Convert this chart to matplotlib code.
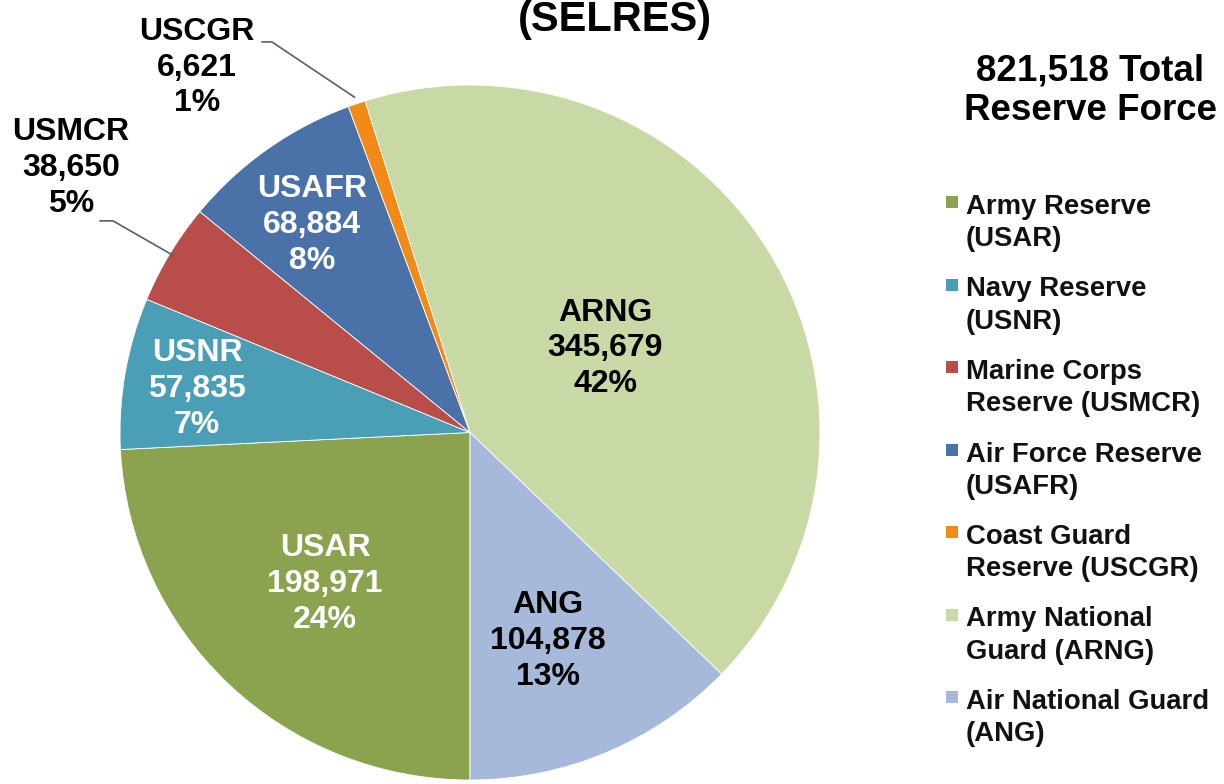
import matplotlib
matplotlib.use("Agg")
import matplotlib.pyplot as plt
from matplotlib.patches import Rectangle
import numpy as np

# ---- data ----
categories = ["USAR", "USNR", "USMCR", "USAFR", "USCGR", "ARNG", "ANG"]
values = [198971, 57835, 38650, 68884, 6621, 345679, 104878]
legend_names = ["Army Reserve\n(USAR)", "Navy Reserve\n(USNR)",
                "Marine Corps\nReserve (USMCR)", "Air Force Reserve\n(USAFR)",
                "Coast Guard\nReserve (USCGR)", "Army National\nGuard (ARNG)",
                "Air National Guard\n(ANG)"]
title_text = "(SELRES)"
total_text = "821,518 Total\nReserve Force"

# ---- style ----
colors = ["#8ba34f", "#4a9fb7", "#b84d4a", "#4a72a9", "#f28a18", "#c9d9a5", "#a6b9da"]
label_colors = ["white", "white", "black", "white", "black", "black", "black"]
# label centres (data units of the pie axes)
label_pos = [(-0.414, -0.436), (-0.780, 0.125), (-1.140, 0.761), (-0.451, 0.597),
             (-0.780, 1.050), (0.386, 0.242), (0.223, -0.600)]
# leader lines for outside labels: (text end, elbow)
leaders = {"USMCR": [(-1.057, 0.609), (-1.020, 0.609)],
           "USCGR": [(-0.594, 1.124), (-0.566, 1.124)]}

FONT = "Liberation Sans"
W, H = 1224, 784
fig = plt.figure(figsize=(W / 100, H / 100), dpi=100)
fig.patch.set_facecolor("white")

# pie axes: pixel box x 120..820, y 85..780 (from top)
ax = fig.add_axes([120 / W, (H - 780) / H, 700 / W, 695 / H])
wedges, _ = ax.pie(values, colors=colors, startangle=-90, counterclock=False,
                   radius=1.0, center=(0, 0),
                   wedgeprops=dict(edgecolor="white", linewidth=0.6))
ax.set_aspect("auto")
ax.set_xlim(-1, 1)
ax.set_ylim(-1, 1)
ax.axis("off")

total = sum(values)
for i, (cat, v) in enumerate(zip(categories, values)):
    pct = round(100 * v / total)
    x, y = label_pos[i]
    ax.text(x, y, f"{cat}\n{v:,}\n{pct}%", ha="center", va="center",
            fontsize=23, fontweight="bold", family=FONT,
            color=label_colors[i], linespacing=1.25)
    if cat in leaders:
        w = wedges[i]
        mid = np.deg2rad((w.theta1 + w.theta2) / 2)
        r = 1.02 if cat == "USCGR" else 0.99
        pts = leaders[cat] + [(r * np.cos(mid), r * np.sin(mid))]
        ax.plot([p[0] for p in pts], [p[1] for p in pts], color="#5e5e5e",
                lw=1.2, clip_on=False, zorder=5)

# title (the upper part of the chart title lies outside the picture)
fig.text(615 / W, 1 - 31 / H, title_text, ha="center", va="baseline",
         fontsize=30, fontweight="bold", family=FONT)

# total text
fig.text(1090 / W, 1 - 53 / H, total_text, ha="center", va="top",
         fontsize=26.5, fontweight="bold", family=FONT, linespacing=1.2)

# legend (manual)
y0 = 194
pitch = 82.5
for i, (name, c) in enumerate(zip(legend_names, colors)):
    ytop = y0 + i * pitch
    fig.patches.append(Rectangle((946 / W, 1 - (ytop + 14) / H), 12 / W, 12 / H,
                                 transform=fig.transFigure, facecolor=c,
                                 edgecolor="none"))
    fig.text(966 / W, 1 - ytop / H, name, ha="left", va="top",
             fontsize=19.8, fontweight="bold", family=FONT, linespacing=1.32,
             color="#111111")

fig.savefig("out.png", dpi=100, facecolor="white")
